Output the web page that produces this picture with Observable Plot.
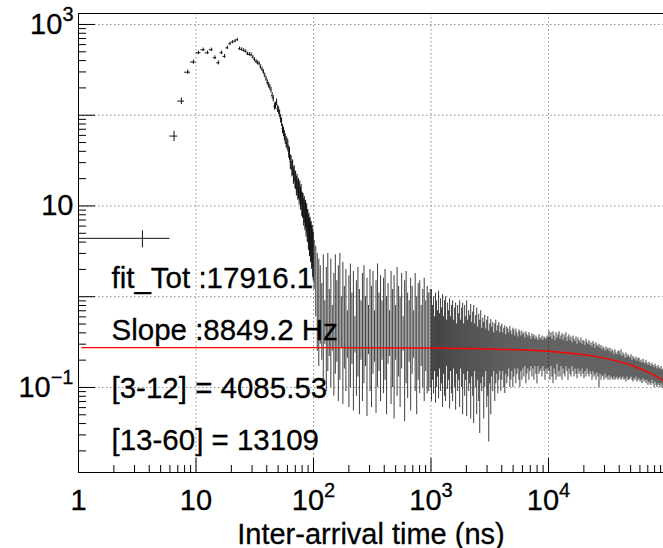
<!DOCTYPE html>
<html>
<head>
<meta charset="utf-8">
<script src="https://cdn.jsdelivr.net/npm/d3@7"></script>
<script src="https://cdn.jsdelivr.net/npm/@observablehq/plot@0.6"></script>
<style>
  html, body { margin: 0; padding: 0; background: #fff; }
  #chart svg { display: block; }
</style>
</head>
<body>
<div id="chart"></div>
<script>
// ---------- data ----------
// wide first bin [1,6] ns
const wideX1 = [1];
const wideX2 = [6];
const wideY = [4.4];
const wideLo = [3.46];
const wideHi = [5.34];

// 1-ns bins starting at 6 ns (centres 6.5 ... 99.5)
const peakStart = 6;
const peakY = [
  58.9, 143, 298, 385, 488, 526, 488, 526, 430, 378,
  488, 445, 553, 612, 638, 655, 678, 540, 531, 518,
  505, 475, 468, 463, 436, 410, 390, 378, 369, 340,
  320, 300, 275, 252, 230, 215, 204, 190, 165, 152,
  125, 128, 139, 118, 113, 104, 92, 84, 71, 66,
  60, 55, 51, 49, 46.5, 40, 38, 31, 30, 26,
  27, 22, 23, 20, 19.5, 17, 18, 15.5, 16, 14,
  15, 12.5, 13.5, 11, 10.6, 10.5, 9, 9.6, 8.2, 8.6,
  7.2, 7.8, 6.5, 6.6, 5.6, 5.9, 5.0, 5.2, 4.5, 4.6,
  4.0, 4.1, 3.5, 3.3
];

// noisy tail: error-bar extents, three log-spaced groups of bins
const tailBounds = [[100, 1000], [1000, 10000], [10000, 95230]];
const tailHiA = [
  4.2, 3.6, 3.0, 2.6, 2.2,
  1.4, 2.9, 0.9, 2.1, 3.0, 1.2, 2.6, 0.8, 1.8, 2.9, 1.5, 2.2, 3.0, 1.0, 2.4, 1.3, 2.0,
  0.7, 1.7, 2.3, 1.1, 1.9, 0.6, 1.5, 2.1, 1.2, 0.9, 1.8, 2.2, 1.0, 1.6, 0.8, 2.0, 1.3, 1.9, 0.7, 1.5, 2.3, 1.1, 1.7, 0.9,
  1.6, 2.0, 1.0, 1.4, 0.7, 1.9, 1.2, 1.7, 0.8, 2.1, 1.3, 1.0, 1.8, 0.6, 1.5, 1.9, 1.1, 0.9, 1.6, 1.3, 0.7, 1.8, 1.0, 1.4, 1.5, 0.8, 1.2, 1.6, 0.9, 1.3, 1.1, 1.2
];
const tailLoA = [
  1.2, 0.6, 0.25, 0.17, 0.3,
  0.2, 0.12, 0.3, 0.09, 0.15, 0.22, 0.1, 0.25, 0.08, 0.14, 0.19, 0.07, 0.12, 0.27, 0.065, 0.16, 0.09,
  0.21, 0.06, 0.1, 0.18, 0.055, 0.24, 0.08, 0.13, 0.05, 0.2, 0.07, 0.11, 0.17, 0.048, 0.23, 0.09, 0.06, 0.14, 0.19, 0.052, 0.1, 0.15, 0.07, 0.2,
  0.085, 0.12, 0.05, 0.18, 0.22, 0.065, 0.1, 0.045, 0.2, 0.08, 0.13, 0.06, 0.16, 0.25, 0.042, 0.11, 0.075, 0.19, 0.055, 0.14, 0.21, 0.09, 0.05, 0.12, 0.085, 0.17, 0.1, 0.07, 0.15, 0.085, 0.09, 0.1
];
const tailHiB = [
  1.2, 0.8, 1.0, 0.6, 1.1, 0.9, 0.7, 1.15, 0.65, 0.95,
  0.75, 1.05, 0.6, 0.9, 1.0, 0.55, 0.85, 0.7, 0.95, 0.6,
  0.8, 0.9, 0.55, 0.75, 0.85, 0.5, 0.8, 0.65, 0.9, 0.55,
  0.75, 0.85, 0.5, 0.8, 0.6, 0.9, 0.55, 0.7, 0.62, 0.82,
  0.52, 0.68, 0.8, 0.5, 0.62, 0.75, 0.46, 0.64, 0.55, 0.7,
  0.45, 0.58, 0.52, 0.62, 0.44, 0.55, 0.6, 0.42, 0.5, 0.56,
  0.46, 0.52, 0.4, 0.5, 0.55, 0.42, 0.48, 0.52, 0.4, 0.47,
  0.5, 0.4, 0.45, 0.48, 0.38, 0.46, 0.44, 0.4, 0.47, 0.42,
  0.38, 0.45, 0.43, 0.37, 0.44, 0.4, 0.36, 0.43, 0.41, 0.37,
  0.42, 0.38, 0.4, 0.35, 0.41, 0.38, 0.36, 0.4, 0.37, 0.34,
  0.39, 0.36, 0.38, 0.34, 0.37, 0.35, 0.33, 0.38, 0.35, 0.34,
  0.37, 0.33, 0.36, 0.35, 0.34, 0.37, 0.35
];
const tailLoB = [
  0.07, 0.12, 0.085, 0.15, 0.067, 0.1, 0.13, 0.075, 0.16, 0.09,
  0.11, 0.06, 0.14, 0.08, 0.07, 0.17, 0.095, 0.12, 0.058, 0.15,
  0.085, 0.07, 0.16, 0.1, 0.056, 0.14, 0.09, 0.12, 0.06, 0.16,
  0.1, 0.05, 0.14, 0.08, 0.12, 0.048, 0.15, 0.09, 0.11, 0.045,
  0.13, 0.08, 0.04, 0.15, 0.1, 0.05, 0.12, 0.07, 0.031, 0.11,
  0.09, 0.13, 0.045, 0.1, 0.15, 0.06, 0.08, 0.025, 0.11, 0.05,
  0.13, 0.09, 0.15, 0.07, 0.11, 0.14, 0.085, 0.12, 0.15, 0.09,
  0.12, 0.15, 0.1, 0.086, 0.14, 0.11, 0.13, 0.16, 0.1, 0.12,
  0.15, 0.1, 0.13, 0.16, 0.11, 0.14, 0.16, 0.12, 0.1, 0.15,
  0.12, 0.16, 0.13, 0.17, 0.11, 0.14, 0.16, 0.12, 0.15, 0.17,
  0.13, 0.16, 0.12, 0.17, 0.14, 0.11, 0.17, 0.14, 0.15, 0.16,
  0.13, 0.17, 0.15, 0.12, 0.16, 0.14, 0.16
];
const tailHiC = [
  0.42, 0.36, 0.4, 0.34, 0.41, 0.37, 0.33, 0.4, 0.35, 0.38,
  0.41, 0.34, 0.37, 0.39, 0.33, 0.38, 0.35, 0.4, 0.32, 0.36,
  0.38, 0.33, 0.36, 0.31, 0.37, 0.34, 0.32, 0.36, 0.3, 0.35,
  0.33, 0.31, 0.35, 0.3, 0.33, 0.32, 0.29, 0.34, 0.31, 0.3,
  0.33, 0.29, 0.31, 0.28, 0.32, 0.3, 0.27, 0.31, 0.29, 0.28,
  0.3, 0.27, 0.29, 0.26, 0.28, 0.27, 0.25, 0.28, 0.26, 0.27,
  0.25, 0.27, 0.24, 0.26, 0.25, 0.23, 0.26, 0.24, 0.23, 0.25,
  0.25, 0.23, 0.26, 0.22, 0.24, 0.23, 0.21, 0.24, 0.215, 0.23,
  0.22, 0.21, 0.23, 0.2, 0.22, 0.21, 0.2, 0.215, 0.195, 0.21,
  0.21, 0.19, 0.2, 0.185, 0.205, 0.19, 0.18, 0.2, 0.185, 0.175,
  0.19, 0.18, 0.17, 0.185, 0.175, 0.165, 0.18, 0.17, 0.16, 0.175,
  0.165, 0.16, 0.17, 0.155, 0.16
];
const tailLoC = [
  0.15, 0.12, 0.17, 0.13, 0.11, 0.16, 0.14, 0.12, 0.18, 0.13,
  0.15, 0.13, 0.17, 0.12, 0.16, 0.14, 0.13, 0.17, 0.15, 0.12,
  0.16, 0.14, 0.13, 0.17, 0.15, 0.13, 0.16, 0.14, 0.125, 0.16,
  0.14, 0.15, 0.13, 0.16, 0.14, 0.125, 0.15, 0.13, 0.16, 0.14,
  0.13, 0.15, 0.14, 0.12, 0.15, 0.13, 0.14, 0.12, 0.145, 0.13,
  0.1, 0.14, 0.12, 0.135, 0.13, 0.12, 0.14, 0.125, 0.13, 0.12,
  0.135, 0.12, 0.13, 0.125, 0.12, 0.13, 0.12, 0.125, 0.13, 0.12,
  0.125, 0.13, 0.12, 0.125, 0.13, 0.12, 0.125, 0.115, 0.13, 0.12,
  0.12, 0.125, 0.13, 0.12, 0.115, 0.125, 0.12, 0.13, 0.115, 0.12,
  0.125, 0.115, 0.12, 0.11, 0.125, 0.115, 0.12, 0.11, 0.12, 0.105,
  0.115, 0.11, 0.105, 0.12, 0.11, 0.1, 0.115, 0.105, 0.1, 0.11,
  0.105, 0.1, 0.11, 0.098, 0.105
];

// red exponential fit
const fitT = [1.07, 10, 100, 1000, 3640, 9940, 18600, 25000, 35500, 45000, 56800, 70000, 82000, 95000];
const fitY = [0.275, 0.275, 0.275, 0.272, 0.264, 0.251, 0.232, 0.220, 0.200, 0.184, 0.166, 0.148, 0.133, 0.119];

// axes
const xDomain = [1, 95230];
const yDomain = [0.01156, 1321];
const xTickValues = [1, 10, 100, 1000, 10000];
const xTickLabels = ["1", "10", "10^2", "10^3", "10^4"];
const yTickValues = [0.1, 10, 1000];
const yTickLabels = ["10^\u22121", "10", "10^3"];
const xGridValues = [10, 100, 1000, 10000];
const yGridValues = [0.1, 1, 10, 100, 1000];
const xDecades = [1, 10, 100, 1000, 10000];
const yDecades = [0.01, 0.1, 1, 10, 100, 1000];

const notes = ["fit_Tot :17916.1", "Slope :8849.2 Hz", "[3-12] = 4085.53", "[13-60] = 13109"];
const xTitle = "Inter-arrival time (ns)";

// ---------- tables built from the arrays ----------
const peak = peakY.map((y, i) => ({
  x: peakStart + i + 0.5, x1: peakStart + i, x2: peakStart + i + 1,
  y, lo: y - Math.sqrt(y), hi: y + Math.sqrt(y)
}));
const wide = wideY.map((y, i) => ({
  x: (wideX1[i] + wideX2[i]) / 2, x1: wideX1[i], x2: wideX2[i], y, lo: wideLo[i], hi: wideHi[i]
}));
const tailGroups = [[tailHiA, tailLoA], [tailHiB, tailLoB], [tailHiC, tailLoC]];
const tail = [];
tailGroups.forEach(([hi, lo], g) => {
  const [t0, t1] = tailBounds[g];
  const n = hi.length;
  hi.forEach((h, i) => {
    tail.push({t: t0 * Math.pow(t1 / t0, (i + 0.5) / n), hi: h, lo: lo[i]});
  });
});
const fit = fitT.map((t, i) => ({t, y: fitY[i]}));

const xLabel = new Map(xTickValues.map((v, i) => [v, xTickLabels[i]]));
const yLabel = new Map(yTickValues.map((v, i) => [v, yTickLabels[i]]));
const xMinor = xDecades.flatMap(d => d3.range(2, 10).map(k => k * d)).filter(v => v <= xDomain[1]);
const yMinor = yDecades.flatMap(d => d3.range(2, 10).map(k => k * d)).filter(v => v >= yDomain[0] && v <= yDomain[1]);

const noteBaselines = [274, 326, 384, 436]; // offsets below frame top
const font = "'Liberation Sans', Arial, Helvetica, sans-serif";

const chart = Plot.plot({
  width: 663,
  height: 548,
  marginLeft: 78,
  marginRight: 0,
  marginTop: 13,
  marginBottom: 76,
  style: {fontFamily: font, fontSize: "29px", background: "#fff", color: "#000"},
  x: {type: "log", domain: xDomain},
  y: {type: "log", domain: yDomain},
  marks: [
    Plot.gridX(xGridValues, {stroke: "#8a8a8a", strokeOpacity: 1, strokeDasharray: "1.5,2.5"}),
    Plot.gridY(yGridValues, {stroke: "#8a8a8a", strokeOpacity: 1, strokeDasharray: "1.5,2.5"}),
    Plot.ruleX(tail, {x: "t", y1: "lo", y2: "hi", stroke: "#000", strokeOpacity: 0.72, strokeWidth: 1.05, clip: true}),
    Plot.ruleX(peak, {x: "x", y1: "lo", y2: "hi", stroke: "#111", strokeWidth: 1, clip: true}),
    Plot.ruleY(peak, {y: "y", x1: "x1", x2: "x2", stroke: "#111", strokeWidth: 1, clip: true}),
    Plot.ruleX(wide, {x: "x", y1: "lo", y2: "hi", stroke: "#111", strokeWidth: 1, clip: true}),
    Plot.ruleY(wide, {y: "y", x1: "x1", x2: "x2", stroke: "#111", strokeWidth: 1, clip: true}),
    Plot.line(fit, {x: "t", y: "y", stroke: "#ff0000", strokeWidth: 1.4, curve: "monotone-x", clip: true}),
    Plot.ruleX([xDomain[0]], {stroke: "#000"}),
    Plot.ruleY([yDomain[0], yDomain[1]], {stroke: "#000"}),
    Plot.axisX(xTickValues, {anchor: "bottom", tickSize: -14, fill: "none", label: null}),
    Plot.axisX(xMinor, {anchor: "bottom", tickSize: -7, fill: "none", label: null}),
    Plot.axisY(yGridValues, {anchor: "left", tickSize: -17, fill: "none", label: null}),
    Plot.axisY(yMinor, {anchor: "left", tickSize: -8, fill: "none", label: null}),
    Plot.axisX(xTickValues, {anchor: "bottom", tickSize: 0, tickPadding: 17, tickFormat: d => xLabel.get(d), label: null,
      textStroke: "#000", textStrokeWidth: 0.3, textStrokeOpacity: 1}),
    Plot.axisY(yTickValues, {anchor: "left", tickSize: 0, tickPadding: 5, tickFormat: d => yLabel.get(d), label: null,
      textStroke: "#000", textStrokeWidth: 0.3, textStrokeOpacity: 1}),
    ...notes.map((s, i) => Plot.text([s], {
      frameAnchor: "top-left", dx: 33, dy: noteBaselines[i], textAnchor: "start",
      lineAnchor: "bottom", fontSize: 29.5, fill: "#000", stroke: "#000", strokeWidth: 0.3
    })),
    Plot.text([xTitle], {frameAnchor: "bottom", dy: 71, lineAnchor: "bottom", fontSize: 29, fill: "#000",
      stroke: "#000", strokeWidth: 0.3})
  ]
});

// superscripts for the exponent tick labels
const svg = chart.tagName.toLowerCase() === "svg" ? chart : chart.querySelector("svg");
svg.querySelectorAll("text").forEach(t => {
  const s = t.textContent;
  if (s.includes("^")) {
    const [base, exp] = s.split("^");
    t.textContent = base;
    const ts = document.createElementNS("http://www.w3.org/2000/svg", "tspan");
    ts.setAttribute("dy", "-13");
    ts.setAttribute("font-size", "20px");
    ts.textContent = exp;
    t.appendChild(ts);
  }
});
document.getElementById("chart").appendChild(chart);
</script>
</body>
</html>
